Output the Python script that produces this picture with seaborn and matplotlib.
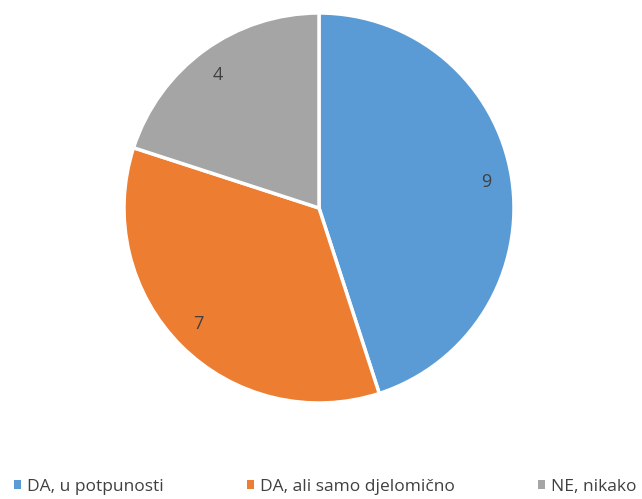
import matplotlib
matplotlib.use("Agg")
import matplotlib.pyplot as plt
import seaborn as sns
from matplotlib.patches import Patch

sns.set_theme(style="white")
plt.rcParams['font.family'] = ['Open Sans', 'DejaVu Sans']

labels = ['DA, u potpunosti', 'DA, ali samo djelomično', 'NE, nikako']
values = [9, 7, 4]
colors = ['#5B9BD5', '#ED7D31', '#A5A5A5']

fig = plt.figure(figsize=(6.42, 4.99), dpi=100)
# pie centred at about (319, 208) px, radius about 195 px
ax = fig.add_axes([(319 - 195) / 642, (499 - 403) / 499, 390 / 642, 390 / 499])

wedges, texts = ax.pie(
    values,
    colors=colors,
    startangle=90,
    counterclock=False,
    labels=[str(v) for v in values],
    labeldistance=0.84,
    radius=1,
    wedgeprops=dict(edgecolor='white', linewidth=2.5),
    textprops=dict(color='#404040', fontsize=13),
)
ax.set_xlim(-1.0, 1.0)
ax.set_ylim(-1.0, 1.0)
ax.set_aspect('equal')
ax.axis('off')

handles = [Patch(facecolor=c, edgecolor='none') for c in colors]
fig.legend(handles, labels, loc='center', bbox_to_anchor=(325 / 642, 1 - 487 / 499),
           ncol=3, frameon=False, fontsize=12.5, handlelength=0.4, handleheight=0.4,
           handletextpad=0.35, columnspacing=4.8, labelcolor='#404040')

fig.savefig('out.png', dpi=100)
